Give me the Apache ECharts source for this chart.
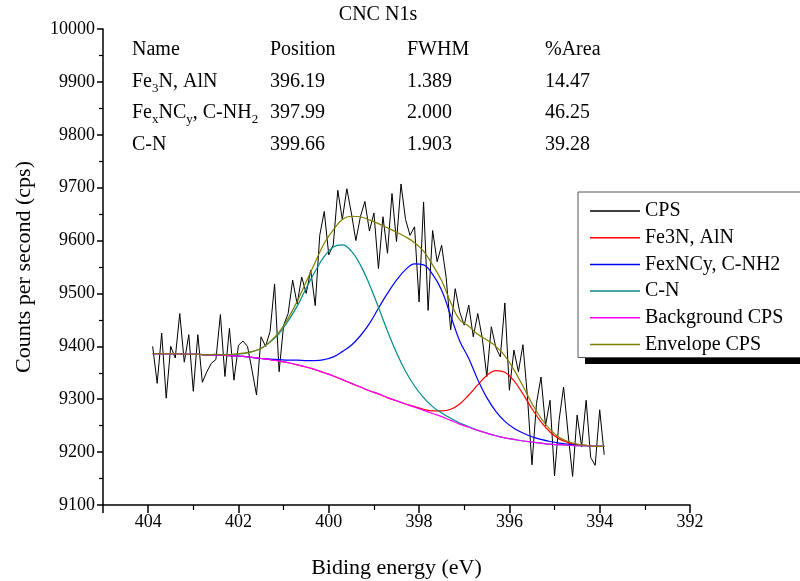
<!DOCTYPE html>
<html><head><meta charset="utf-8">
<script src="https://cdn.jsdelivr.net/npm/echarts@6/dist/echarts.min.js"></script>
<style>html,body{margin:0;padding:0;background:#fff;}#chart{width:800px;height:581px;}</style>
</head><body><div id="chart"></div>
<script>
// ---- Data ----
const cpsEnergy = [
  403.9,403.8,403.7,403.6,403.5,403.4,403.3,403.2,403.1,403.0,
  402.9,402.8,402.7,402.6,402.5,402.4,402.3,402.2,402.1,402.0,
  401.9,401.8,401.7,401.6,401.5,401.4,401.3,401.2,401.1,401.0,
  400.9,400.8,400.7,400.6,400.5,400.4,400.3,400.2,400.1,400.0,
  399.9,399.8,399.7,399.6,399.5,399.4,399.3,399.2,399.1,399.0,
  398.9,398.8,398.7,398.6,398.5,398.4,398.3,398.2,398.1,398.0,
  397.9,397.8,397.7,397.6,397.5,397.4,397.3,397.2,397.1,397.0,
  396.9,396.8,396.7,396.6,396.5,396.4,396.3,396.2,396.1,396.0,
  395.9,395.8,395.7,395.6,395.5,395.4,395.3,395.2,395.1,395.0,
  394.9,394.8,394.7,394.6,394.5,394.4,394.3,394.2,394.1,394.0,
  393.9
];
const cpsValues = [
  9400,9330,9425,9302,9400,9378,9462,9370,9422,9315,
  9422,9332,9352,9368,9375,9460,9343,9434,9336,9402,
  9410,9400,9355,9308,9418,9400,9428,9518,9352,9440,
  9462,9525,9480,9531,9500,9544,9477,9610,9655,9573,
  9592,9695,9640,9698,9652,9600,9645,9674,9618,9652,
  9547,9645,9576,9689,9598,9707,9640,9610,9626,9484,
  9673,9468,9619,9560,9591,9530,9431,9509,9465,9440,
  9478,9418,9462,9415,9343,9437,9398,9380,9482,9317,
  9393,9352,9403,9305,9176,9292,9342,9250,9298,9155,
  9260,9323,9235,9154,9270,9210,9298,9190,9175,9280,
  9195
];
const fitEnergy = [
  403.9,403.7,403.5,403.3,403.1,402.9,402.7,402.5,402.3,402.1,
  401.9,401.7,401.5,401.3,401.1,400.9,400.7,400.5,400.3,400.1,
  399.9,399.7,399.5,399.3,399.1,398.9,398.7,398.5,398.3,398.1,
  397.9,397.7,397.5,397.3,397.1,396.9,396.7,396.5,396.3,396.1,
  395.9,395.7,395.5,395.3,395.1,394.9,394.7,394.5,394.3,394.1,
  393.9
];
const fe3nValues = [
  9386,9386,9386,9386,9385,9385,9384,9384,9383,9382,
  9381,9379,9377,9375,9372,9369,9365,9361,9356,9350,
  9344,9337,9330,9323,9316,9310,9303,9297,9291,9286,
  9281,9278,9278,9281,9291,9308,9327,9345,9354,9351,
  9335,9310,9282,9257,9238,9225,9218,9214,9213,9211,9211
];
const fexncyValues = [
  9386,9386,9386,9386,9385,9385,9384,9384,9383,9382,
  9381,9379,9377,9376,9375,9374,9374,9373,9373,9375,
  9380,9390,9402,9420,9443,9472,9500,9525,9545,9556,
  9554,9536,9506,9458,9410,9377,9337,9303,9277,9258,
  9245,9236,9229,9224,9220,9217,9215,9213,9212,9211,9211
];
const cnValues = [
  9386,9386,9386,9386,9385,9385,9384,9385,9384,9385,
  9386,9390,9396,9408,9424,9448,9476,9510,9542,9570,
  9588,9592,9580,9554,9517,9474,9429,9388,9353,9325,
  9303,9286,9274,9264,9255,9248,9241,9236,9231,9227,
  9224,9221,9219,9217,9215,9214,9213,9212,9212,9211,9211
];
const backgroundValues = [
  9386,9386,9386,9386,9385,9385,9384,9384,9383,9382,
  9381,9379,9377,9375,9372,9369,9365,9361,9356,9350,
  9344,9337,9330,9323,9316,9310,9303,9297,9291,9285,
  9279,9273,9267,9260,9253,9247,9241,9236,9231,9227,
  9224,9221,9219,9217,9215,9214,9213,9212,9212,9211,9211
];
const envelopeValues = [
  9386,9386,9386,9386,9385,9385,9384,9385,9384,9385,
  9387,9390,9396,9409,9427,9453,9485,9522,9559,9595,
  9620,9640,9646,9645,9639,9632,9624,9616,9607,9596,
  9580,9554,9524,9483,9450,9438,9423,9412,9400,9382,
  9356,9325,9292,9264,9243,9228,9220,9215,9213,9211,9211
];
const seriesNames = ['CPS', 'Fe3N, AlN', 'FexNCy, C-NH2', 'C-N', 'Background CPS', 'Envelope CPS'];
const seriesColors = ['#000000', '#ff0000', '#0000ff', '#008b8b', '#ff00ff', '#808000'];
const chartTitle = 'CNC N1s';
const tableHeader = ['Name', 'Position', 'FWHM', '%Area'];
const tableNames = ['{n|Fe}{s|3}{n|N, AlN}', '{n|Fe}{s|x}{n|NC}{s|y}{n|, C-NH}{s|2}', '{n|C-N}'];
const tablePosition = ['396.19', '397.99', '399.66'];
const tableFwhm = ['1.389', '2.000', '1.903'];
const tableArea = ['14.47', '46.25', '39.28'];
const xName = 'Biding energy (eV)';
const yName = 'Counts per second (cps)';

// ---- Build chart ----
const FONT = 'Liberation Serif, Times New Roman, serif';
const pairs = (xs, ys) => xs.map((x, i) => [x, ys[i]]);
const fitSets = [fe3nValues, fexncyValues, cnValues, backgroundValues, envelopeValues];

const series = [{
  name: seriesNames[0], type: 'line', data: pairs(cpsEnergy, cpsValues),
  symbol: 'none', lineStyle: { color: seriesColors[0], width: 1 }, itemStyle: { color: seriesColors[0] },
  animation: false, z: 2
}];
fitSets.forEach((vals, i) => {
  series.push({
    name: seriesNames[i + 1], type: 'line', data: pairs(fitEnergy, vals),
    symbol: 'none', smooth: 0.4,
    lineStyle: { color: seriesColors[i + 1], width: 1.2 }, itemStyle: { color: seriesColors[i + 1] },
    animation: false, z: 3 + i
  });
});

const colX = [132, 270, 407, 545];
const rowY = [50, 82, 113, 145];
const graphics = [];
// legend drop shadow (solid black block offset below/right of legend box)
graphics.push({ type: 'rect', z: 0, zlevel: 0, shape: { x: 585, y: 199, width: 300, height: 165 }, style: { fill: '#000' } });
graphics.push({ type: 'text', x: 378, y: 15, style: { text: chartTitle, fontFamily: FONT, fontSize: 20, fill: '#000', align: 'center', verticalAlign: 'middle' } });
tableHeader.forEach((h, c) => {
  graphics.push({ type: 'text', x: colX[c], y: rowY[0], style: { text: h, fontFamily: FONT, fontSize: 20, fill: '#000', align: 'left', verticalAlign: 'middle' } });
});
const richStyles = {
  n: { fontFamily: FONT, fontSize: 20, lineHeight: 26, fill: '#000', color: '#000', verticalAlign: 'middle' },
  s: { fontFamily: FONT, fontSize: 13, lineHeight: 7, fill: '#000', color: '#000', verticalAlign: 'bottom' }
};
for (let r = 0; r < 3; r++) {
  const cells = [tableNames[r], tablePosition[r], tableFwhm[r], tableArea[r]];
  cells.forEach((t, c) => {
    const style = c === 0
      ? { text: t, rich: richStyles, fontFamily: FONT, fontSize: 20, fill: '#000', align: 'left', verticalAlign: 'middle' }
      : { text: t, fontFamily: FONT, fontSize: 20, fill: '#000', align: 'left', verticalAlign: 'middle' };
    graphics.push({ type: 'text', x: colX[c], y: rowY[r + 1], style });
  });
}

const axisCommon = {
  axisLine: { show: true, lineStyle: { color: '#000', width: 1.5 } },
  splitLine: { show: false },
  axisLabel: { fontFamily: FONT, fontSize: 18, color: '#000', margin: 8, formatter: v => String(v) },
  nameTextStyle: { fontFamily: FONT, fontSize: 22, color: '#000' },
  nameLocation: 'middle'
};

const option = {
  animation: false,
  backgroundColor: '#fff',
  textStyle: { fontFamily: FONT },
  grid: { left: 103, right: 110, top: 29, bottom: 76, containLabel: false, outerBoundsMode: 'none' },
  xAxis: Object.assign({}, axisCommon, {
    type: 'value', inverse: true, min: 392, max: 405, interval: 2,
    name: xName, nameGap: 52,
    axisTick: { show: true, length: 8, lineStyle: { color: '#000', width: 1.5 } },
    minorTick: { show: true, splitNumber: 2, length: 5, lineStyle: { color: '#000', width: 1.2 } },
    axisLabel: Object.assign({}, axisCommon.axisLabel, { showMaxLabel: false })
  }),
  yAxis: Object.assign({}, axisCommon, {
    type: 'value', min: 9100, max: 10000, interval: 100,
    name: yName, nameGap: 68,
    axisTick: { show: true, length: 6, lineStyle: { color: '#000', width: 1.5 } },
    minorTick: { show: true, splitNumber: 2, length: 4, lineStyle: { color: '#000', width: 1.2 } }
  }),
  legend: {
    data: seriesNames.map(n => ({ name: n, icon: 'rect' })),
    orient: 'vertical', left: 578, top: 192, z: 20,
    itemWidth: 50, itemHeight: 1.5, itemGap: 6.7,
    padding: [9, 40, 3, 12],
    backgroundColor: '#fff', borderColor: '#555', borderWidth: 1, borderRadius: 0,
    textStyle: { fontFamily: FONT, fontSize: 20, color: '#000' },
    selectedMode: false
  },
  graphic: graphics,
  series
};
const chart = echarts.init(document.getElementById('chart'), null, { renderer: 'canvas' });
chart.setOption(option);
</script></body></html>
